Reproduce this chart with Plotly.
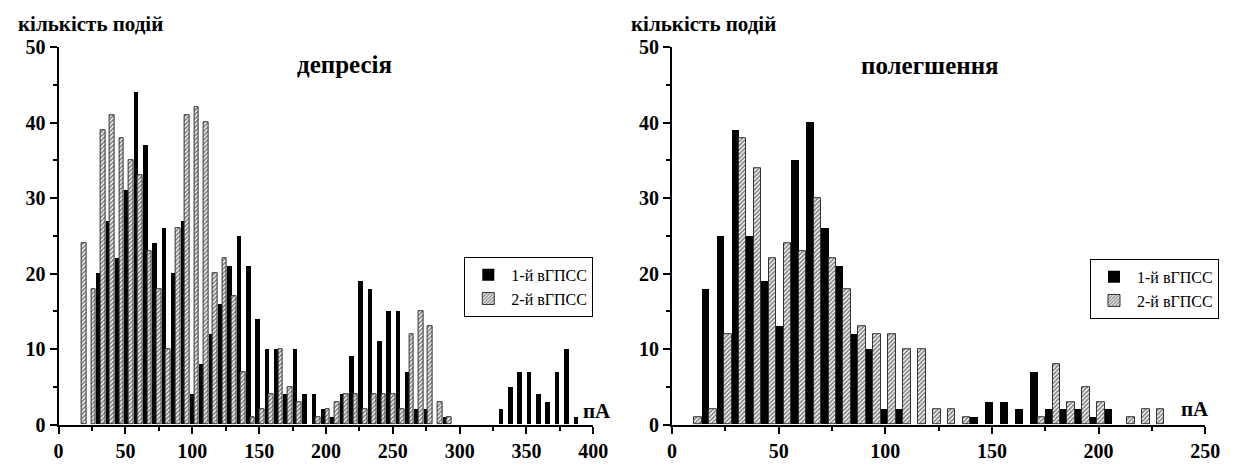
import plotly.graph_objects as go

# ---------------- data ----------------
series_names = ["1-й вГПСС", "2-й вГПСС"]

left_bins = [17.4, 24.4, 31.4, 38.4, 45.4, 52.4, 59.4, 66.4, 73.4, 80.4,
             87.4, 94.4, 101.4, 108.4, 115.4, 122.4, 129.4, 136.4, 143.4, 150.4,
             157.4, 164.4, 171.4, 178.4, 185.4, 192.4, 199.4, 206.4, 213.4, 220.4,
             227.4, 234.4, 241.4, 248.4, 255.4, 262.4, 269.4, 276.4, 283.4, 290.4,
             297.4, 304.4, 311.4, 318.4, 325.4, 332.4, 339.4, 346.4, 353.4, 360.4,
             367.4, 374.4, 381.4, 388.4]
left_first = [0, 0, 20, 27, 22, 31, 44, 37, 24, 26,
              20, 27, 4, 8, 12, 16, 21, 25, 21, 14,
              10, 10, 4, 10, 4, 4, 2, 1, 4, 9,
              19, 18, 11, 15, 15, 7, 2, 2, 0, 1,
              0, 0, 0, 0, 0, 2, 5, 7, 7, 4,
              3, 7, 10, 1]
left_second = [24, 18, 39, 41, 38, 35, 33, 23, 18, 10,
               26, 41, 42, 40, 20, 22, 17, 7, 1, 2,
               4, 10, 5, 3, 0, 1, 2, 3, 4, 4,
               2, 4, 4, 4, 2, 12, 15, 13, 3, 1,
               0, 0, 0, 0, 0, 0, 0, 0, 0, 0,
               0, 0, 0, 0]

right_bins = [10.4, 17.4, 24.4, 31.4, 38.4, 45.4, 52.4, 59.4, 66.4, 73.4,
              80.4, 87.4, 94.4, 101.4, 108.4, 115.4, 122.4, 129.4, 136.4, 143.4,
              150.4, 157.4, 164.4, 171.4, 178.4, 185.4, 192.4, 199.4, 206.4, 213.4,
              220.4, 227.4]
right_first = [0, 18, 25, 39, 25, 19, 13, 35, 40, 26,
               21, 12, 10, 2, 2, 0, 0, 0, 0, 1,
               3, 3, 2, 7, 2, 2, 2, 1, 2, 0,
               0, 0]
right_second = [1, 2, 12, 38, 34, 22, 24, 23, 30, 22,
                18, 13, 12, 12, 10, 10, 2, 2, 1, 0,
                0, 0, 0, 1, 8, 3, 5, 3, 0, 1,
                2, 2]

left_ticks = [0, 50, 100, 150, 200, 250, 300, 350, 400]
right_ticks = [0, 50, 100, 150, 200, 250]
y_ticks = [0, 10, 20, 30, 40, 50]

left_title = "депресія"
right_title = "полегшення"
y_label = "кількість подій"
x_unit = "пА"

FONT = "Liberation Serif"
W, H = 1234, 467


def nz(vals):
    # empty bins are drawn as no bar at all
    return [v if v else None for v in vals]


black_marker = dict(color="black", line=dict(color="black", width=0))
hatch_marker = dict(color="white", line=dict(color="#333", width=1),
                    pattern=dict(shape="/", fgcolor="black", bgcolor="white",
                                 size=3, solidity=0.55))

fig = go.Figure()
fig.add_trace(go.Bar(x=left_bins, y=nz(left_first), name=series_names[0], marker=black_marker,
                     xaxis="x", yaxis="y", legend="legend"))
fig.add_trace(go.Bar(x=left_bins, y=nz(left_second), name=series_names[1], marker=hatch_marker,
                     xaxis="x", yaxis="y", legend="legend"))
fig.add_trace(go.Bar(x=right_bins, y=nz(right_first), name=series_names[0], marker=black_marker,
                     xaxis="x2", yaxis="y2", legend="legend2"))
fig.add_trace(go.Bar(x=right_bins, y=nz(right_second), name=series_names[1], marker=hatch_marker,
                     xaxis="x2", yaxis="y2", legend="legend2"))

tickfont = dict(family=FONT, size=20, color="black")


def bold(vals):
    return ["<b>%d</b>" % v for v in vals]


def xax(domain, rng, anchor, ticks):
    return dict(domain=domain, range=rng, anchor=anchor, showline=True, linecolor="black",
                linewidth=2, ticks="outside", ticklen=7, tickwidth=2, tickcolor="black",
                tickmode="array", tickvals=ticks, ticktext=bold(ticks),
                minor=dict(dtick=25, tick0=0, ticks="outside", ticklen=4,
                           tickwidth=2, tickcolor="black"),
                showgrid=False, zeroline=False, tickfont=tickfont, fixedrange=True)


def yax(anchor):
    return dict(domain=[1 - 434 / H, 1 - 38 / H], range=[0, 50], anchor=anchor, showline=True,
                linecolor="black", linewidth=2, ticks="outside", ticklen=7, tickwidth=2,
                tickcolor="black", tickmode="array", tickvals=y_ticks, ticktext=bold(y_ticks),
                minor=dict(dtick=5, tick0=0, ticks="outside", ticklen=4, tickwidth=2,
                           tickcolor="black"),
                showgrid=False, zeroline=False, tickfont=tickfont, fixedrange=True)


legend_common = dict(font=dict(family=FONT, size=16, color="black"), bordercolor="black",
                     borderwidth=1, bgcolor="white", xanchor="right", yanchor="top",
                     tracegroupgap=0, itemclick=False, itemwidth=36)

fig.update_layout(
    width=W, height=H, margin=dict(l=0, r=0, t=0, b=0),
    font=dict(family=FONT, color="black"),
    paper_bgcolor="white", plot_bgcolor="white",
    barmode="group", bargap=0, bargroupgap=0,
    xaxis=xax([54.5 / W, 598 / W], [0, 400], "y", left_ticks),
    yaxis=yax("x"),
    xaxis2=xax([678 / W, 1220 / W], [0, 250], "y2", right_ticks),
    yaxis2=yax("x2"),
    legend=dict(x=598 / W, y=1 - 258 / H, **legend_common),
    legend2=dict(x=1.0, y=1 - 260 / H, **legend_common),
    showlegend=True,
)

anns = [
    (left_title, 345, 56, 25),
    (right_title, 940, 57, 25),
    (y_label, 87, 14, 21),
    (y_label, 710, 14, 21),
    (x_unit, 602, 420, 21),
    (x_unit, 1210, 418, 21),
]
for text, px, py, size in anns:
    fig.add_annotation(xref="paper", yref="paper", showarrow=False,
                       x=px / W, y=1 - py / H, xanchor="center", yanchor="middle",
                       text="<b>%s</b>" % text,
                       font=dict(family=FONT, size=size, color="black"))

fig.write_html("out.html")
